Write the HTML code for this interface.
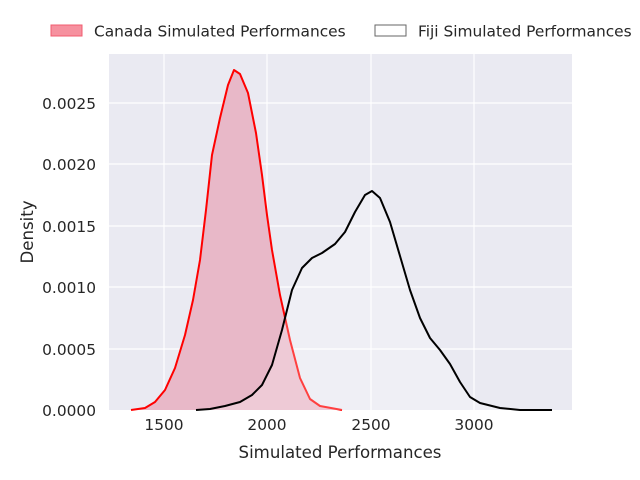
<!DOCTYPE html>
<html><head><meta charset="utf-8"><style>
html,body{margin:0;padding:0;background:#fff;}
svg{display:block;font-family:"DejaVu Sans","Liberation Sans",sans-serif;}
</style></head><body>
<svg width="640" height="480" viewBox="0 0 640 480">
<rect x="109" y="54" width="463" height="356" fill="#EAEAF2"/>
<g stroke="#fff" stroke-width="1.2">
<line x1="164" y1="54" x2="164" y2="410"/><line x1="267" y1="54" x2="267" y2="410"/>
<line x1="371" y1="54" x2="371" y2="410"/><line x1="474" y1="54" x2="474" y2="410"/>
<line x1="109" y1="349" x2="572" y2="349"/><line x1="109" y1="287" x2="572" y2="287"/>
<line x1="109" y1="226" x2="572" y2="226"/><line x1="109" y1="164" x2="572" y2="164"/>
<line x1="109" y1="103" x2="572" y2="103"/>
</g>
<path d="M131,410 L145,408 L155,402 L165,390 L175,368 L185,335 L193,300 L200,260 L206,210 L212,155 L220,118 L228,85 L234,70 L240,74 L248,93 L256,133 L262,175 L267,215 L272,250 L280,295 L290,340 L300,378 L310,399 L320,406 L342,410 Z" fill="#E8B8C8" stroke="none"/>
<path d="M131,410 L145,408 L155,402 L165,390 L175,368 L185,335 L193,300 L200,260 L206,210 L212,155 L220,118 L228,85 L234,70 L240,74 L248,93 L256,133 L262,175 L267,215 L272,250 L280,295 L290,340 L300,378 L310,399 L320,406 L342,410" fill="none" stroke="#ff0000" stroke-width="2" stroke-linejoin="round"/>
<path d="M196,410 L210,409 L225,406 L240,402 L252,395 L262,385 L272,365 L282,330 L292,290 L302,268 L312,258 L322,253 L335,244 L345,232 L355,212 L365,195 L372,191 L380,198 L390,222 L400,256 L410,290 L420,318 L430,338 L440,350 L450,364 L460,382 L470,397 L480,403 L500,408 L520,410 L552,410 Z" fill="#ffffff" fill-opacity="0.25" stroke="none"/>
<path d="M196,410 L210,409 L225,406 L240,402 L252,395 L262,385 L272,365 L282,330 L292,290 L302,268 L312,258 L322,253 L335,244 L345,232 L355,212 L365,195 L372,191 L380,198 L390,222 L400,256 L410,290 L420,318 L430,338 L440,350 L450,364 L460,382 L470,397 L480,403 L500,408 L520,410 L552,410" fill="none" stroke="#000" stroke-width="2" stroke-linejoin="round"/>
<g font-size="15.4" fill="#262626" text-anchor="middle">
<text x="164" y="430">1500</text><text x="267" y="430">2000</text>
<text x="371" y="430">2500</text><text x="474" y="430">3000</text>
<text x="340" y="458" font-size="16.6">Simulated Performances</text>
</g>
<g font-size="15.4" fill="#262626" text-anchor="end">
<text x="96" y="416">0.0000</text><text x="96" y="355">0.0005</text>
<text x="96" y="293">0.0010</text><text x="96" y="232">0.0015</text>
<text x="96" y="170">0.0020</text><text x="96" y="109">0.0025</text>
</g>
<text x="33" y="232" font-size="16.6" fill="#262626" text-anchor="middle" transform="rotate(-90 33 232)">Density</text>
<rect x="51" y="25" width="31" height="11" fill="#F6919F" stroke="#F25C6F"/>
<text x="94" y="36.5" font-size="15.4" fill="#262626">Canada Simulated Performances</text>
<rect x="375" y="25" width="31" height="11" fill="#fff" stroke="#666"/>
<text x="418" y="36.5" font-size="15.4" fill="#262626">Fiji Simulated Performances</text>
</svg>
</body></html>
